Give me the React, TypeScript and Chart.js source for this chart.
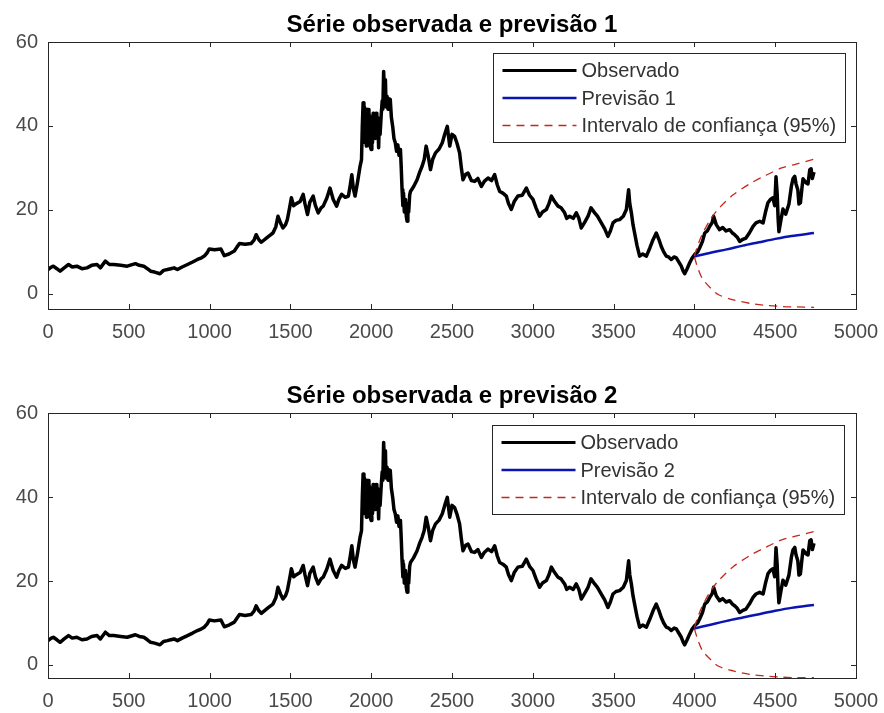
import React, { useEffect, useRef } from 'react';
import { Chart, registerables } from 'chart.js';

Chart.register(...registerables);

// Axis ticks
const xTicks = [0, 500, 1000, 1500, 2000, 2500, 3000, 3500, 4000, 4500, 5000];
const yTicks = [0, 20, 40, 60];

// Observed series (index, value)
const obsX = [
  0, 20, 33, 55, 75, 100, 127, 150, 178, 210, 241, 270, 303, 324, 355, 380, 407, 450, 490, 541,
  565, 593, 615, 635, 660, 693, 715, 739, 760, 780, 801, 830, 863, 895, 925, 950, 967, 985, 998, 1030,
  1070, 1091, 1120, 1153, 1170, 1185, 1220, 1257, 1275, 1288, 1305, 1320, 1361, 1392, 1410, 1423, 1440, 1454, 1470, 1481,
  1495, 1506, 1520, 1537, 1560, 1579, 1590, 1606, 1620, 1641, 1655, 1672, 1690, 1703, 1725, 1745, 1765, 1786, 1800, 1817,
  1840, 1859, 1870, 1880, 1890, 1900, 1915, 1931, 1940, 1945, 1950, 1955, 1958, 1962, 1966, 1970, 1974, 1978, 1982, 1986,
  1990, 1995, 2000, 2004, 2008, 2012, 2016, 2020, 2025, 2030, 2035, 2040, 2046, 2050, 2055, 2062, 2068, 2072, 2077, 2082,
  2088, 2092, 2098, 2104, 2110, 2118, 2125, 2133, 2141, 2149, 2157, 2165, 2172, 2181, 2186, 2191, 2196, 2200, 2205, 2212,
  2217, 2222, 2227, 2232, 2238, 2243, 2262, 2284, 2300, 2315, 2328, 2340, 2352, 2367, 2380, 2398, 2420, 2440, 2455, 2471,
  2486, 2500, 2516, 2530, 2547, 2558, 2568, 2585, 2599, 2620, 2640, 2660, 2682, 2700, 2723, 2745, 2764, 2780, 2795, 2815,
  2836, 2850, 2867, 2885, 2908, 2935, 2960, 2980, 3001, 3020, 3042, 3060, 3084, 3100, 3115, 3135, 3156, 3175, 3197, 3210,
  3228, 3250, 3269, 3285, 3300, 3320, 3342, 3360, 3383, 3400, 3424, 3445, 3465, 3480, 3496, 3515, 3537, 3560, 3579, 3593,
  3600, 3610, 3620, 3630, 3645, 3661, 3680, 3703, 3725, 3744, 3764, 3780, 3795, 3810, 3826, 3840, 3857, 3875, 3888, 3905,
  3919, 3930, 3940, 3955, 3971, 3985, 4002, 4020, 4033, 4050, 4064, 4080, 4095, 4110, 4119, 4135, 4156, 4175, 4196, 4218,
  4235, 4249, 4265, 4280, 4300, 4319, 4340, 4363, 4381, 4404, 4425, 4440, 4455, 4470, 4486, 4497, 4505, 4512, 4518, 4523,
  4535, 4548, 4565, 4585, 4600, 4610, 4621, 4629, 4640, 4647, 4656, 4665, 4672, 4690, 4703, 4714, 4722, 4730, 4740,
];
const obsY = [
  5.8, 6.4, 6.6, 6.0, 5.4, 6.2, 7.0, 6.4, 6.6, 6.0, 6.2, 6.8, 7.0, 6.2, 7.8, 7.0, 7.0, 6.8, 6.6, 7.2,
  6.8, 6.6, 6.0, 5.4, 5.2, 4.8, 5.6, 5.8, 6.0, 6.2, 5.8, 6.4, 7.0, 7.6, 8.2, 8.6, 9.0, 9.8, 10.7, 10.5,
  10.7, 9.1, 9.5, 10.2, 11.2, 12.0, 11.8, 12.0, 12.8, 14.1, 12.9, 12.3, 13.6, 14.5, 16.0, 18.5, 16.8, 15.7, 16.5, 17.7,
  20.5, 22.9, 21.0, 21.5, 22.0, 23.7, 21.5, 18.9, 21.8, 23.3, 21.0, 19.3, 20.5, 20.9, 22.8, 25.2, 22.5, 20.9, 22.5, 23.7,
  23.0, 23.3, 25.8, 28.4, 25.0, 23.3, 26.5, 30.4, 32.0, 40.0, 45.5, 38.0, 44.5, 36.0, 43.0, 35.2, 44.0, 37.0, 43.9, 36.0,
  42.5, 35.0, 34.4, 42.0, 36.0, 43.0, 38.0, 42.7, 37.0, 43.0, 39.0, 42.0, 34.8, 41.0, 38.0, 42.7, 46.0, 44.0, 53.0, 48.0,
  51.0, 44.5, 47.1, 44.0, 46.5, 46.3, 42.0, 39.9, 37.0, 36.0, 34.0, 35.5, 33.0, 34.4, 30.0, 24.8, 21.0, 24.0, 19.5, 22.5,
  18.5, 17.3, 21.5, 19.5, 23.5, 24.4, 25.5, 27.2, 29.0, 30.4, 32.0, 35.2, 33.0, 29.6, 32.0, 33.6, 34.5, 36.0, 38.0, 39.9,
  35.2, 38.0, 37.5, 36.0, 33.6, 30.0, 27.2, 28.5, 28.8, 27.0, 26.8, 27.5, 25.6, 26.8, 27.6, 27.0, 28.4, 26.0, 24.4, 24.0,
  23.3, 21.5, 20.1, 22.0, 23.3, 23.5, 25.2, 23.5, 22.5, 20.5, 18.5, 19.5, 20.1, 21.5, 23.3, 22.0, 20.9, 20.5, 19.3, 18.0,
  18.5, 18.0, 19.3, 18.0, 15.7, 17.0, 18.5, 20.5, 19.3, 18.5, 16.9, 15.5, 13.7, 15.0, 16.9, 17.5, 17.7, 18.5, 20.1, 24.8,
  21.5, 19.3, 16.5, 14.5, 11.5, 9.0, 9.5, 9.0, 11.0, 12.9, 14.5, 13.0, 11.3, 10.0, 9.0, 8.8, 8.2, 8.8, 8.6, 7.5,
  6.6, 5.5, 4.8, 6.0, 7.4, 8.5, 9.4, 10.0, 11.0, 12.5, 14.5, 15.0, 16.1, 17.0, 18.5, 16.5, 15.3, 15.8, 15.0, 15.3,
  14.5, 14.1, 13.5, 12.5, 13.0, 13.3, 14.5, 16.1, 16.9, 17.3, 16.9, 19.5, 21.7, 22.5, 22.9, 21.0, 27.9, 24.0, 18.0, 14.8,
  17.5, 20.2, 19.0, 21.4, 25.6, 27.4, 28.0, 26.2, 24.8, 21.4, 21.7, 25.0, 27.4, 26.5, 26.2, 29.6, 29.8, 27.5, 29.0,
];

// Forecasts
const forecastX = [4000, 4100, 4200, 4300, 4400, 4500, 4600, 4740];
const forecast1Y = [8.9, 9.8, 10.6, 11.5, 12.3, 13.1, 13.8, 14.5];
const forecast2Y = [8.7, 9.6, 10.5, 11.3, 12.1, 12.9, 13.6, 14.3];

// 95% confidence bounds
const ciX = [4000, 4020, 4050, 4100, 4150, 4240, 4350, 4430, 4540, 4620, 4740];
const ci1Upper = [9.0, 11.5, 14.3, 17.8, 20.3, 23.6, 26.4, 28.0, 30.0, 30.8, 32.1];
const ci1Lower = [8.8, 6.3, 3.6, 1.4, -0.2, -1.4, -2.3, -2.7, -3.0, -3.1, -3.2];
const ci2Upper = [8.9, 11.3, 14.1, 17.6, 20.1, 23.4, 26.2, 27.8, 29.8, 30.6, 31.8];
const ci2Lower = [8.6, 6.1, 3.4, 1.3, -0.3, -1.4, -2.3, -2.6, -2.9, -3.0, -3.0];

const FONT = '"Liberation Sans", Arial, Helvetica, sans-serif';
const OBS_COLOR = '#000000';
const FC_COLOR = '#0a14b0';
const CI_COLOR = '#c4281e';
const AXIS_COLOR = '#262626';
const TEXT_COLOR = '#4a4a4a';

const pts = (xs: number[], ys: number[]) => xs.map((x, i) => ({ x, y: ys[i] }));

// Boxed axes with inward ticks on all sides, title and an inset legend
const matlabFrame = {
  id: 'matlabFrame',
  afterDatasetsDraw(chart: any, _args: any, opts: any) {
    const { ctx, chartArea: a, scales } = chart;
    const xs = scales.x;
    const ys = scales.y;
    ctx.save();

    // frame
    ctx.strokeStyle = AXIS_COLOR;
    ctx.lineWidth = 1;
    ctx.strokeRect(Math.round(a.left) + 0.5, Math.round(a.top) + 0.5, Math.round(a.right - a.left), Math.round(a.bottom - a.top));

    // inward ticks
    const tl = 5;
    ctx.beginPath();
    xs.ticks.forEach((t: any) => {
      const px = Math.round(xs.getPixelForValue(t.value)) + 0.5;
      if (px <= a.left + 1 || px >= a.right - 1) return;
      ctx.moveTo(px, a.bottom);
      ctx.lineTo(px, a.bottom - tl);
      ctx.moveTo(px, a.top);
      ctx.lineTo(px, a.top + tl);
    });
    ys.ticks.forEach((t: any) => {
      const py = Math.round(ys.getPixelForValue(t.value)) + 0.5;
      if (py <= a.top + 1 || py >= a.bottom - 1) return;
      ctx.moveTo(a.left, py);
      ctx.lineTo(a.left + tl, py);
      ctx.moveTo(a.right, py);
      ctx.lineTo(a.right - tl, py);
    });
    ctx.stroke();

    // title
    ctx.fillStyle = '#000';
    ctx.font = `bold ${opts.titleSize}px ${FONT}`;
    ctx.textAlign = 'center';
    ctx.textBaseline = 'alphabetic';
    ctx.fillText(opts.title, (a.left + a.right) / 2, a.top - 10);

    // legend
    const items = chart.data.datasets.filter((d: any) => d.label);
    const w = 352;
    const h = 89;
    const bx = Math.round(a.right - opts.legendInset - w) + 0.5;
    const by = Math.round(a.top + opts.legendInset) + 0.5;
    ctx.fillStyle = '#fff';
    ctx.fillRect(bx, by, w, h);
    ctx.strokeStyle = AXIS_COLOR;
    ctx.lineWidth = 1;
    ctx.strokeRect(bx, by, w, h);
    ctx.font = `20px ${FONT}`;
    ctx.textAlign = 'left';
    ctx.textBaseline = 'middle';
    items.forEach((d: any, i: number) => {
      const ry = by + 17 + i * 27.5;
      ctx.save();
      ctx.strokeStyle = d.borderColor;
      ctx.lineWidth = Math.min(d.borderWidth, 3);
      ctx.setLineDash(d.borderDash || []);
      ctx.beginPath();
      ctx.moveTo(bx + 9, ry);
      ctx.lineTo(bx + 83, ry);
      ctx.stroke();
      ctx.restore();
      ctx.fillStyle = '#333333';
      ctx.fillText(d.label, bx + 88, ry + 1);
    });

    ctx.restore();
  },
};

type PlotProps = {
  title: string;
  forecastLabel: string;
  forecastY: number[];
  upper: number[];
  lower: number[];
  top: number;
  height: number;
  areaTop: number;
  axisHeight: number;
  yMin: number;
  legendInset: number;
};

function SubPlot(p: PlotProps) {
  const ref = useRef<HTMLCanvasElement | null>(null);

  useEffect(() => {
    if (!ref.current) return;
    const tickFont = { family: FONT, size: 20 };
    const chart = new Chart(ref.current, {
      type: 'line',
      data: {
        datasets: [
          {
            label: 'Observado',
            data: pts(obsX, obsY),
            borderColor: OBS_COLOR,
            borderWidth: 3.5,
            borderJoinStyle: 'round',
            pointRadius: 0,
            tension: 0,
            order: 3,
          },
          {
            label: p.forecastLabel,
            data: pts(forecastX, p.forecastY),
            borderColor: FC_COLOR,
            borderWidth: 2.5,
            pointRadius: 0,
            tension: 0.3,
            order: 2,
          },
          {
            label: 'Intervalo de confiança (95%)',
            data: pts(ciX, p.upper),
            borderColor: CI_COLOR,
            borderWidth: 1.3,
            borderDash: [8, 6],
            pointRadius: 0,
            tension: 0.3,
            order: 1,
          },
          {
            label: '',
            data: pts(ciX, p.lower),
            borderColor: CI_COLOR,
            borderWidth: 1.3,
            borderDash: [8, 6],
            pointRadius: 0,
            tension: 0.3,
            order: 1,
          },
        ],
      } as any,
      options: {
        responsive: false,
        animation: false,
        devicePixelRatio: 1,
        parsing: false as any,
        layout: { padding: { top: p.areaTop, right: 28, bottom: 0, left: 0 } },
        plugins: {
          legend: { display: false },
          tooltip: { enabled: false },
          title: { display: false },
          matlabFrame: { title: p.title, titleSize: 24, legendInset: p.legendInset },
        } as any,
        scales: {
          x: {
            type: 'linear',
            min: 0,
            max: 5000,
            afterBuildTicks: (s: any) => {
              s.ticks = xTicks.map((v) => ({ value: v }));
            },
            afterFit: (s: any) => {
              s.height = p.axisHeight;
              s.paddingLeft = 0;
              s.paddingRight = 0;
            },
            grid: { display: false, drawTicks: false },
            border: { display: false },
            ticks: {
              padding: 11,
              color: TEXT_COLOR,
              font: tickFont,
              maxRotation: 0,
              autoSkip: false,
              callback: (v: any) => String(v),
            },
          },
          y: {
            type: 'linear',
            min: p.yMin,
            max: 60,
            afterBuildTicks: (s: any) => {
              s.ticks = yTicks.map((v) => ({ value: v }));
            },
            afterFit: (s: any) => {
              s.width = 48;
              s.paddingTop = 0;
              s.paddingBottom = 0;
            },
            grid: { display: false, drawTicks: false },
            border: { display: false },
            ticks: {
              padding: 10,
              color: TEXT_COLOR,
              font: tickFont,
              autoSkip: false,
              callback: (v: any) => String(v),
            },
          },
        },
      } as any,
      plugins: [matlabFrame],
    });
    return () => chart.destroy();
  }, []);

  return (
    <canvas
      ref={ref}
      width={884}
      height={p.height}
      style={{ position: 'absolute', left: 0, top: p.top, width: 884, height: p.height }}
    />
  );
}

export default function App() {
  return (
    <div style={{ position: 'absolute', left: 0, top: 0, width: 884, height: 713, background: '#fff' }}>
      <SubPlot
        title="Série observada e previsão 1"
        forecastLabel="Previsão 1"
        forecastY={forecast1Y}
        upper={ci1Upper}
        lower={ci1Lower}
        top={0}
        height={356}
        areaTop={42}
        axisHeight={47}
        yMin={-3.6}
        legendInset={11}
      />
      <SubPlot
        title="Série observada e previsão 2"
        forecastLabel="Previsão 2"
        forecastY={forecast2Y}
        upper={ci2Upper}
        lower={ci2Lower}
        top={356}
        height={357}
        areaTop={57}
        axisHeight={35}
        yMin={-3.1}
        legendInset={12}
      />
    </div>
  );
}
